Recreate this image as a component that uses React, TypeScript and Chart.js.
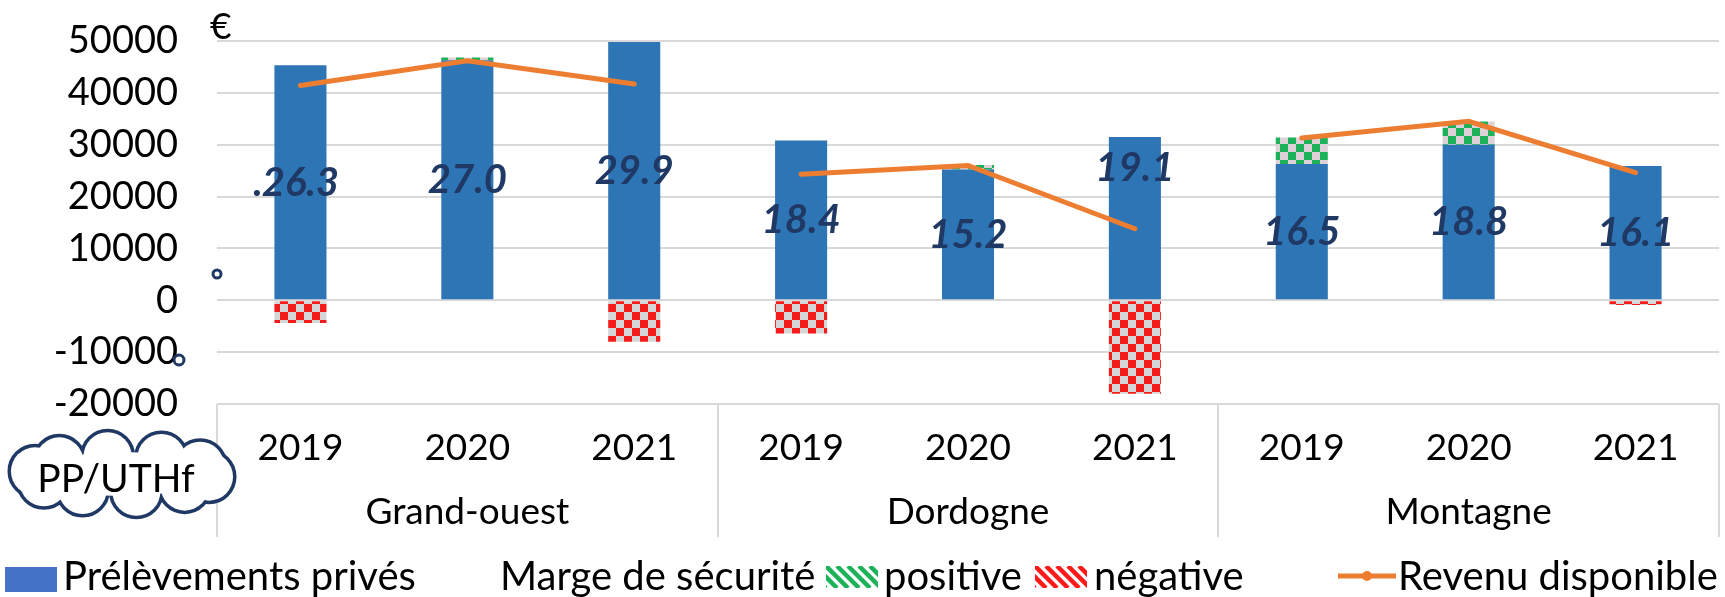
import React, { useEffect, useRef } from 'react';
import { Chart, registerables } from 'chart.js';

Chart.register(...registerables);

// ---- data ----
const years = ['2019', '2020', '2021', '2019', '2020', '2021', '2019', '2020', '2021'];
const groups = ['Grand-ouest', 'Dordogne', 'Montagne'];
const prelevements = [45300, 46300, 49800, 30800, 25200, 31500, 26300, 30000, 25900];
const margePositive = [null, 500, null, null, 900, null, 5100, 4500, null];
const margeNegative = [-4400, null, -8000, -6400, null, -18000, null, null, -900];
const revenuGrandOuest = [41400, 46200, 41700, null, null, null, null, null, null];
const revenuDordogne = [null, null, null, 24300, 26000, 13800, null, null, null];
const revenuMontagne = [null, null, null, null, null, null, 31300, 34500, 24600];
const ppUthf = ['26.3', '27.0', '29.9', '18.4', '15.2', '19.1', '16.5', '18.8', '16.1'];
const yMin = -20000;
const yMax = 50000;
const yStep = 10000;

// ---- style ----
const FONT = 'Lato, "Liberation Sans", sans-serif';
const BLUE = '#2E75B6';
const LEGEND_BLUE = '#4472C4';
const ORANGE = '#ED7D31';
const NAVY = '#1F3864';
const GRID = '#D9D9D9';
const labelLift = [0, 0, 0, 0, 0, 51, 0, 0, 0];

function checker(c1: string, c2: string, size: number): CanvasPattern | string {
  const cv = document.createElement('canvas');
  cv.width = size * 2;
  cv.height = size * 2;
  const g = cv.getContext('2d');
  if (!g) return c1;
  g.fillStyle = c2;
  g.fillRect(0, 0, size * 2, size * 2);
  g.fillStyle = c1;
  g.fillRect(0, 0, size, size);
  g.fillRect(size, size, size, size);
  const p = g.createPattern(cv, 'repeat');
  return p || c1;
}

function hatchIcon(ctx: CanvasRenderingContext2D, x: number, y: number, w: number, h: number, color: string) {
  ctx.save();
  ctx.beginPath();
  ctx.rect(x, y, w, h);
  ctx.clip();
  ctx.strokeStyle = color;
  ctx.lineWidth = 4.5;
  for (let k = -h; k < w + h; k += 11) {
    ctx.beginPath();
    ctx.moveTo(x + k, y);
    ctx.lineTo(x + k + h, y + h);
    ctx.stroke();
  }
  ctx.restore();
}

function cloud(ctx: CanvasRenderingContext2D, cx: number, cy: number, rx: number, ry: number, r: number, n: number) {
  const pts: [number, number][] = [];
  for (let i = 0; i < n; i++) {
    const a = (i / n) * Math.PI * 2 + 0.15;
    pts.push([cx + rx * Math.cos(a), cy + ry * Math.sin(a)]);
  }
  ctx.save();
  ctx.strokeStyle = NAVY;
  ctx.lineWidth = 7;
  pts.forEach(([px, py]) => {
    ctx.beginPath();
    ctx.arc(px, py, r, 0, Math.PI * 2);
    ctx.stroke();
  });
  ctx.fillStyle = '#ffffff';
  pts.forEach(([px, py]) => {
    ctx.beginPath();
    ctx.arc(px, py, r, 0, Math.PI * 2);
    ctx.fill();
  });
  ctx.beginPath();
  ctx.ellipse(cx, cy, rx, ry + 4, 0, 0, Math.PI * 2);
  ctx.fill();
  ctx.restore();
}

const decorPlugin = {
  id: 'decor',
  afterDatasetsDraw(chart: any) {
    const { ctx, scales } = chart;
    const xs = scales.x;
    const ys = scales.y;
    ctx.save();
    ctx.font = `italic bold 40px ${FONT}`;
    ctx.fillStyle = NAVY;
    ctx.textAlign = 'center';
    ctx.textBaseline = 'middle';
    ppUthf.forEach((t, i) => {
      const x = xs.getPixelForValue(i);
      const y = ys.getPixelForValue(prelevements[i] / 2) - labelLift[i];
      ctx.fillText(t, x, y);
      if (i === 0) {
        const w = ctx.measureText(t).width;
        ctx.textAlign = 'right';
        ctx.fillText('.', x - w / 2 + 1, y);
        ctx.textAlign = 'center';
      }
    });
    ctx.restore();
  },
  afterDraw(chart: any) {
    const { ctx, scales, chartArea } = chart;
    const xs = scales.x;
    ctx.save();
    // separators
    ctx.strokeStyle = GRID;
    ctx.lineWidth = 2;
    [-0.5, 2.5, 5.5, 8.5].forEach((v) => {
      const x = Math.round(xs.getPixelForValue(v));
      ctx.beginPath();
      ctx.moveTo(x, chartArea.bottom);
      ctx.lineTo(x, 537);
      ctx.stroke();
    });
    // group labels
    ctx.font = `37px ${FONT}`;
    ctx.fillStyle = '#000000';
    ctx.textAlign = 'center';
    ctx.textBaseline = 'middle';
    groups.forEach((g, gi) => {
      const x = xs.getPixelForValue(gi * 3 + 1);
      ctx.fillText(g, x, 512);
    });
    // euro sign
    ctx.textAlign = 'left';
    ctx.textBaseline = 'alphabetic';
    ctx.font = `37px ${FONT}`;
    ctx.fillText('€', 210, 39);

    // cloud label
    cloud(ctx, 122, 474, 88, 18, 24, 10);
    ctx.font = `39px ${FONT}`;
    ctx.fillStyle = '#000000';
    ctx.textAlign = 'center';
    ctx.textBaseline = 'alphabetic';
    ctx.fillText('PP/UTHf', 116, 492);

    // stray circles
    ctx.strokeStyle = NAVY;
    ctx.lineWidth = 3;
    ctx.beginPath();
    ctx.arc(217, 274, 4, 0, Math.PI * 2);
    ctx.stroke();
    ctx.beginPath();
    ctx.arc(179, 360, 5, 0, Math.PI * 2);
    ctx.stroke();

    // legend
    const base = 590;
    ctx.font = `40px ${FONT}`;
    ctx.fillStyle = LEGEND_BLUE;
    ctx.fillRect(5, 567, 52, 25);
    ctx.fillStyle = '#000000';
    ctx.textAlign = 'left';
    ctx.fillText('Prélèvements privés', 63, base);
    ctx.fillText('Marge de sécurité', 500, base);
    hatchIcon(ctx, 826, 566, 52, 22, '#1DB25A');
    ctx.fillStyle = '#000000';
    ctx.fillText('positive', 884, base);
    hatchIcon(ctx, 1035, 566, 52, 22, '#FF1A1A');
    ctx.fillStyle = '#000000';
    ctx.fillText('négative', 1094, base);
    ctx.strokeStyle = ORANGE;
    ctx.lineWidth = 5;
    ctx.beginPath();
    ctx.moveTo(1338, 576);
    ctx.lineTo(1396, 576);
    ctx.stroke();
    ctx.fillStyle = ORANGE;
    ctx.beginPath();
    ctx.arc(1367, 576, 5, 0, Math.PI * 2);
    ctx.fill();
    ctx.fillStyle = '#000000';
    ctx.fillText('Revenu disponible', 1398, base);
    ctx.restore();
  },
};

export default function App() {
  const ref = useRef<HTMLCanvasElement | null>(null);
  useEffect(() => {
    if (!ref.current) return;
    const greenPat = checker('#1DB25A', '#DCD2D7', 8);
    const redPat = checker('#F41B1B', '#D3D7D7', 8);
    const lineDs = (data: (number | null)[], stack: string) => ({
      type: 'line' as const,
      label: 'Revenu disponible',
      data,
      borderColor: ORANGE,
      backgroundColor: ORANGE,
      borderWidth: 5,
      borderCapStyle: 'round' as const,
      pointRadius: 0,
      pointHoverRadius: 0,
      spanGaps: false,
      tension: 0,
      fill: false,
      stack,
      order: 1,
    });
    const barOpts = { stack: 'bars', order: 2, categoryPercentage: 1, barPercentage: 0.312 };
    const chart = new Chart(ref.current, {
      type: 'bar',
      data: {
        labels: years,
        datasets: [
          { label: 'Prélèvements privés', data: prelevements, backgroundColor: BLUE, ...barOpts },
          { label: 'positive', data: margePositive, backgroundColor: greenPat as any, ...barOpts },
          { label: 'négative', data: margeNegative, backgroundColor: redPat as any, ...barOpts },
          lineDs(revenuGrandOuest, 'l1') as any,
          lineDs(revenuDordogne, 'l2') as any,
          lineDs(revenuMontagne, 'l3') as any,
        ],
      },
      options: {
        responsive: false,
        animation: false,
        events: [],
        layout: { padding: { top: 41, right: 6, bottom: 0, left: 0 } },
        plugins: {
          legend: { display: false },
          tooltip: { enabled: false },
        },
        scales: {
          x: {
            stacked: true,
            grid: { display: false, drawTicks: false },
            border: { display: false },
            ticks: {
              color: '#000000',
              font: { family: FONT, size: 37 },
              padding: 22,
              maxRotation: 0,
              autoSkip: false,
            },
            afterFit: (s: any) => {
              s.height = 193;
            },
          },
          y: {
            stacked: true,
            min: yMin,
            max: yMax,
            grid: { color: GRID, lineWidth: 2, drawTicks: false },
            border: { display: false },
            ticks: {
              stepSize: yStep,
              color: '#000000',
              font: { family: FONT, size: 38 },
              padding: 39,
              callback: (v: any) => String(v),
            },
            afterFit: (s: any) => {
              s.width = 217;
              s.paddingTop = 0;
              s.paddingBottom = 0;
            },
          },
        },
      },
      plugins: [decorPlugin],
    });
    return () => chart.destroy();
  }, []);
  return (
    <div style={{ position: 'fixed', left: 0, top: 0, width: 1725, height: 597, background: '#ffffff' }}>
      <canvas ref={ref} width={1725} height={597} style={{ width: 1725, height: 597, display: 'block' }} />
    </div>
  );
}
